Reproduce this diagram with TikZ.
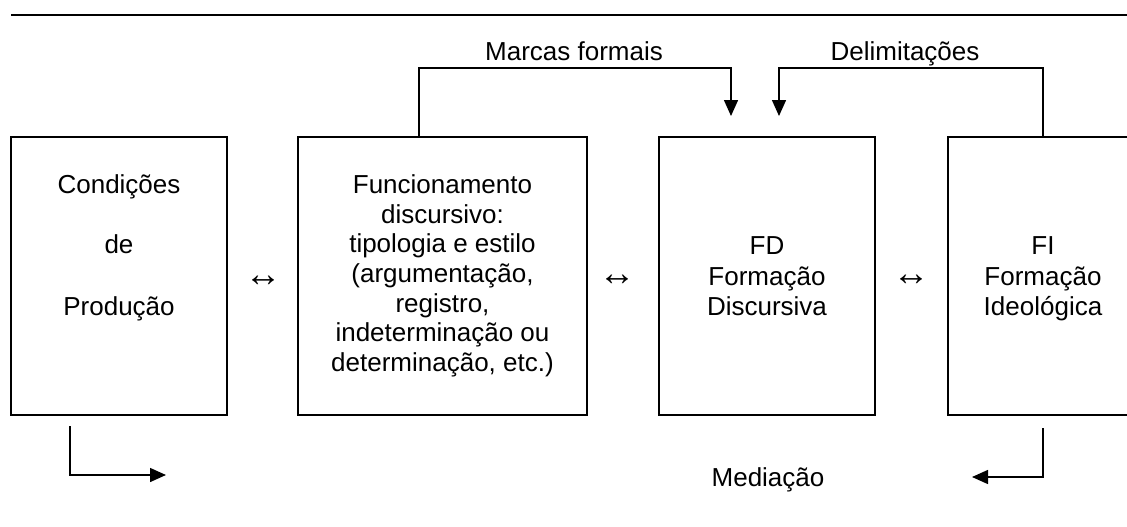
\documentclass[tikz,border=0pt]{standalone}
\usepackage{fontspec}
\setmainfont{Liberation Sans}
\usetikzlibrary{arrows.meta}
\begin{document}
\begin{tikzpicture}[x=1pt,y=-1pt,
  boxnode/.style={draw, line width=2.2pt, minimum height=278pt, inner sep=0pt, outer sep=0pt},
  txt/.style={font=\fontsize{26}{30}\selectfont, anchor=base, inner sep=0pt},
  sym/.style={font=\fontsize{37}{40}\selectfont, anchor=center, inner sep=0pt},
  conn/.style={line width=1.5pt},
  tipend/.style={-{Triangle[length=16pt,width=14pt]}}]
\useasboundingbox (0,0) rectangle (1127,527);
\clip (0,0) rectangle (1127,527);
% top rule
\coordinate (r1) at (11,15);
\coordinate (r2) at (1127,15);
\draw[line width=2.5pt] (r1) -- (r2);
% boxes
\node[boxnode, minimum width=216pt] (b1) at (119,276) {};
\node[boxnode, minimum width=289pt] (b2) at (442.5,276) {};
\node[boxnode, minimum width=216pt] (b3) at (767,276) {};
\node[boxnode, minimum width=190pt] (b4) at (1043,276) {};
% box 1 text
\node[txt] (t1a) at (119,193) {Condições};
\node[txt] (t1b) at (119,253) {de};
\node[txt] (t1c) at (119,315) {Produção};
% box 2 text
\node[txt] (t2a) at (442.5,193) {Funcionamento};
\node[txt] (t2b) at (442.5,223) {discursivo:};
\node[txt] (t2c) at (442.5,252) {tipologia e estilo};
\node[txt] (t2d) at (442.5,282) {(argumentação,};
\node[txt] (t2e) at (442.5,312) {registro,};
\node[txt] (t2f) at (442.5,341) {indeterminação ou};
\node[txt] (t2g) at (442.5,371) {determinação, etc.)};
% box 3 text
\node[txt] (t3a) at (767,254) {FD};
\node[txt] (t3b) at (767,285) {Formação};
\node[txt] (t3c) at (767,315) {Discursiva};
% box 4 text
\node[txt] (t4a) at (1043,254) {FI};
\node[txt] (t4b) at (1043,285) {Formação};
\node[txt] (t4c) at (1043,315) {Ideológica};
% double arrows
\node[sym] (s1) at (263,281) {↔};
\node[sym] (s2) at (617,280) {↔};
\node[sym] (s3) at (911,280) {↔};
% labels
\node[txt] (lm) at (574,60) {Marcas formais};
\node[txt] (ld) at (905,60) {Delimitações};
\node[txt] (lme) at (768,486) {Mediação};
% top connectors
\coordinate (mA) at (419,68);
\coordinate (m1) at (731,116);
\coordinate (d1) at (779,116);
\draw[conn,tipend] (b2.north -| mA) -- (mA) -| (m1);
\draw[conn,tipend] (b4.north) -- (b4.north |- mA) -| (d1);
% bottom connectors
\coordinate (p1) at (70,426);
\coordinate (p2) at (166,475);
\coordinate (q1) at (1043,428);
\coordinate (q2) at (972,477);
\draw[conn,tipend] (p1) |- (p2);
\draw[conn,tipend] (q1) |- (q2);
\end{tikzpicture}
\end{document}
